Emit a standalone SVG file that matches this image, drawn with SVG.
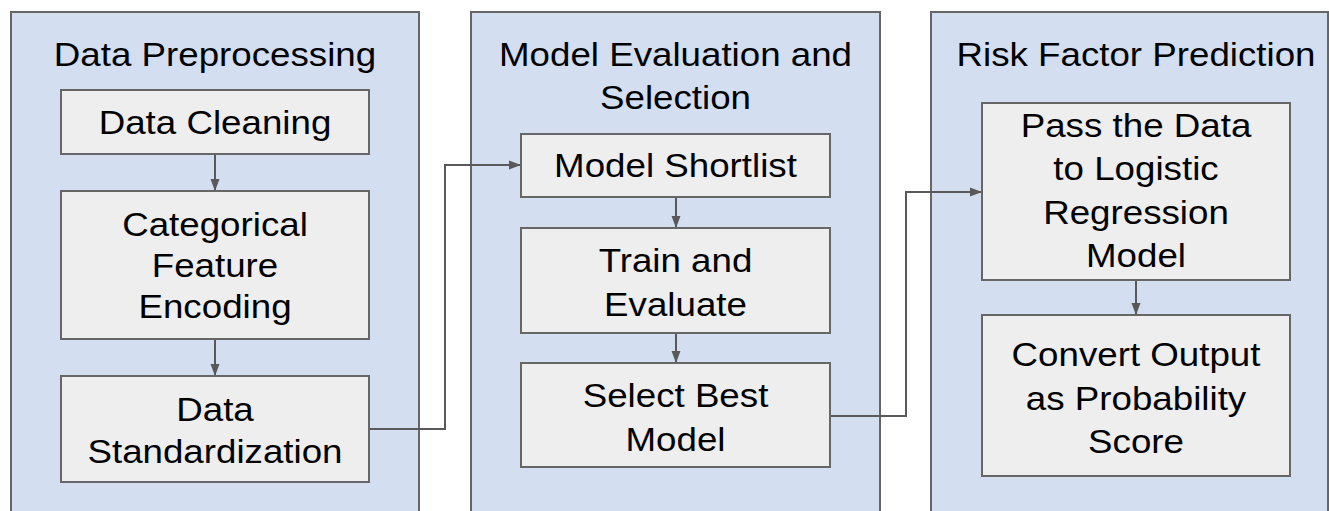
<svg xmlns="http://www.w3.org/2000/svg" width="1329" height="511" viewBox="0 0 1329 511">
  <defs>
    <marker id="arrow" markerUnits="userSpaceOnUse" markerWidth="13" markerHeight="10" refX="12" refY="5" orient="auto">
      <path d="M0,0.5 L12,5 L0,9.5 Z" fill="#595959"/>
    </marker>
    <style>
      .panel { fill: #d3dff0; stroke: #666666; stroke-width: 2; }
      .box { fill: #eeeeee; stroke: #666666; stroke-width: 2; }
      .label { font-family: "Liberation Sans", Arial, sans-serif; font-size: 34px; fill: #000000; text-anchor: middle; }
      .link { fill: none; stroke: #595959; stroke-width: 2; marker-end: url(#arrow); }
    </style>
  </defs>

  <rect width="1329" height="511" fill="#ffffff"/>

  <!-- Stage containers -->
  <g id="stage-preprocessing">
    <rect class="panel" x="11" y="12" width="408" height="520"/>
    <text class="label" transform="translate(215 0) scale(1.08 1)" x="0" y="66">Data Preprocessing</text>
  </g>
  <g id="stage-evaluation">
    <rect class="panel" x="471" y="12" width="409" height="520"/>
    <text class="label" transform="translate(675.5 0) scale(1.08 1)"><tspan x="0" y="66">Model Evaluation and</tspan><tspan x="0" y="109.5">Selection</tspan></text>
  </g>
  <g id="stage-prediction">
    <rect class="panel" x="931" y="12" width="397" height="520"/>
    <text class="label" transform="translate(1136 0) scale(1.08 1)" x="0" y="66">Risk Factor Prediction</text>
  </g>

  <!-- Connectors -->
  <g id="connectors">
    <path class="link" d="M215,154 V191"/>
    <path class="link" d="M215,339 V376"/>
    <path class="link" d="M369,429 H445 V165 H521"/>
    <path class="link" d="M676,197 V228"/>
    <path class="link" d="M676,333 V363"/>
    <path class="link" d="M830,416 H906 V192 H982"/>
    <path class="link" d="M1136,280 V315"/>
  </g>

  <!-- Steps -->
  <g id="data-cleaning">
    <rect class="box" x="61" y="90" width="308" height="64"/>
    <text class="label" transform="translate(215 0) scale(1.08 1)" x="0" y="134">Data Cleaning</text>
  </g>
  <g id="feature-encoding">
    <rect class="box" x="61" y="191" width="308" height="148"/>
    <text class="label" transform="translate(215 0) scale(1.08 1)"><tspan x="0" y="236">Categorical</tspan><tspan x="0" y="277">Feature</tspan><tspan x="0" y="318">Encoding</tspan></text>
  </g>
  <g id="data-standardization">
    <rect class="box" x="61" y="376" width="308" height="106"/>
    <text class="label" transform="translate(215 0) scale(1.08 1)"><tspan x="0" y="421">Data</tspan><tspan x="0" y="463">Standardization</tspan></text>
  </g>

  <g id="model-shortlist">
    <rect class="box" x="521" y="134" width="309" height="63"/>
    <text class="label" transform="translate(675.5 0) scale(1.08 1)" x="0" y="177">Model Shortlist</text>
  </g>
  <g id="train-evaluate">
    <rect class="box" x="521" y="228" width="309" height="105"/>
    <text class="label" transform="translate(675.5 0) scale(1.08 1)"><tspan x="0" y="272">Train and</tspan><tspan x="0" y="316">Evaluate</tspan></text>
  </g>
  <g id="select-best">
    <rect class="box" x="521" y="363" width="309" height="104"/>
    <text class="label" transform="translate(675.5 0) scale(1.08 1)"><tspan x="0" y="407">Select Best</tspan><tspan x="0" y="451">Model</tspan></text>
  </g>

  <g id="logistic-regression">
    <rect class="box" x="982" y="103" width="308" height="177"/>
    <text class="label" transform="translate(1136 0) scale(1.08 1)"><tspan x="0" y="137">Pass the Data</tspan><tspan x="0" y="180.5">to Logistic</tspan><tspan x="0" y="224">Regression</tspan><tspan x="0" y="267.5">Model</tspan></text>
  </g>
  <g id="probability-score">
    <rect class="box" x="982" y="315" width="308" height="161"/>
    <text class="label" transform="translate(1136 0) scale(1.08 1)"><tspan x="0" y="366">Convert Output</tspan><tspan x="0" y="410">as Probability</tspan><tspan x="0" y="453">Score</tspan></text>
  </g>
</svg>
